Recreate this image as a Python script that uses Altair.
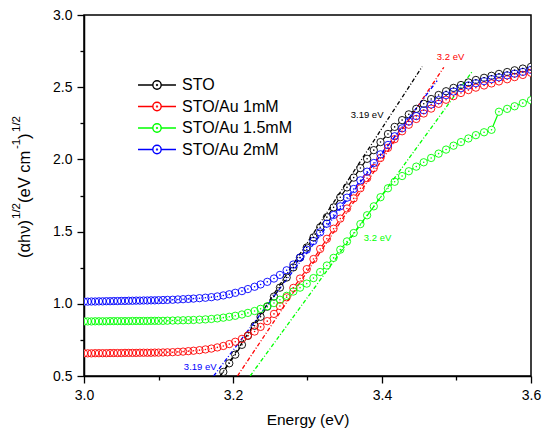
import altair as alt
import pandas as pd

# ---------------- data ----------------
energy = [3.000, 3.005, 3.010, 3.015, 3.020, 3.025, 3.030, 3.035, 3.040, 3.045,
          3.050, 3.055, 3.060, 3.065, 3.070, 3.075, 3.080, 3.085, 3.090, 3.095,
          3.100, 3.106, 3.112, 3.119, 3.126, 3.133, 3.140, 3.147, 3.155, 3.163,
          3.171, 3.179, 3.187, 3.195, 3.203, 3.212, 3.220, 3.229, 3.237, 3.246,
          3.255, 3.263, 3.272, 3.281, 3.290, 3.299, 3.308, 3.317, 3.326, 3.335,
          3.344, 3.353, 3.362, 3.371, 3.380, 3.389, 3.398, 3.408, 3.417, 3.427,
          3.436, 3.446, 3.456, 3.466, 3.476, 3.486, 3.496, 3.506, 3.516, 3.526,
          3.537, 3.547, 3.557, 3.568, 3.578, 3.589, 3.600]

sto = [0.300, 0.300, 0.301, 0.301, 0.301, 0.302, 0.302, 0.302, 0.302, 0.303,
       0.303, 0.303, 0.303, 0.304, 0.304, 0.304, 0.304, 0.305, 0.305, 0.305,
       0.305, 0.306, 0.307, 0.308, 0.310, 0.313, 0.317, 0.323, 0.333, 0.360,
       0.410, 0.468, 0.528, 0.588, 0.648, 0.716, 0.778, 0.848, 0.910, 0.980,
       1.050, 1.112, 1.182, 1.252, 1.320, 1.390, 1.460, 1.530, 1.600, 1.668,
       1.738, 1.806, 1.874, 1.940, 2.004, 2.064, 2.120, 2.176, 2.225, 2.272,
       2.312, 2.350, 2.385, 2.418, 2.446, 2.472, 2.495, 2.515, 2.533, 2.550,
       2.565, 2.579, 2.592, 2.605, 2.617, 2.629, 2.641]

au_1mm = [0.657, 0.657, 0.657, 0.658, 0.658, 0.658, 0.658, 0.659, 0.659, 0.659,
          0.659, 0.660, 0.660, 0.660, 0.660, 0.661, 0.661, 0.661, 0.661, 0.662,
          0.662, 0.663, 0.664, 0.665, 0.667, 0.669, 0.672, 0.675, 0.679, 0.684,
          0.690, 0.698, 0.708, 0.721, 0.737, 0.757, 0.780, 0.808, 0.840, 0.880,
          0.930, 0.985, 1.045, 1.110, 1.175, 1.240, 1.310, 1.380, 1.450, 1.520,
          1.590, 1.660, 1.730, 1.800, 1.870, 1.940, 2.010, 2.080, 2.140, 2.195,
          2.240, 2.280, 2.318, 2.352, 2.385, 2.413, 2.438, 2.460, 2.480, 2.497,
          2.512, 2.526, 2.540, 2.555, 2.570, 2.585, 2.600]

au_15mm = [0.878, 0.878, 0.878, 0.879, 0.879, 0.879, 0.879, 0.880, 0.880, 0.880,
           0.880, 0.880, 0.880, 0.881, 0.881, 0.881, 0.881, 0.881, 0.882, 0.882,
           0.882, 0.882, 0.883, 0.884, 0.885, 0.886, 0.887, 0.888, 0.890, 0.892,
           0.895, 0.899, 0.904, 0.910, 0.917, 0.926, 0.937, 0.950, 0.965, 0.983,
           1.005, 1.028, 1.055, 1.085, 1.112, 1.140, 1.178, 1.220, 1.265, 1.318,
           1.375, 1.432, 1.490, 1.552, 1.613, 1.675, 1.738, 1.800, 1.845, 1.885,
           1.918, 1.950, 1.980, 2.010, 2.040, 2.068, 2.095, 2.120, 2.145, 2.168,
           2.188, 2.205, 2.330, 2.350, 2.368, 2.390, 2.410]

au_2mm = [1.015, 1.015, 1.016, 1.016, 1.017, 1.017, 1.018, 1.018, 1.019, 1.019,
          1.020, 1.020, 1.021, 1.021, 1.022, 1.022, 1.023, 1.023, 1.024, 1.024,
          1.025, 1.026, 1.027, 1.028, 1.030, 1.032, 1.034, 1.036, 1.039, 1.042,
          1.046, 1.051, 1.058, 1.066, 1.076, 1.088, 1.102, 1.118, 1.134, 1.152,
          1.175, 1.200, 1.232, 1.272, 1.320, 1.375, 1.435, 1.495, 1.555, 1.615,
          1.675, 1.735, 1.795, 1.855, 1.915, 1.975, 2.035, 2.100, 2.160, 2.215,
          2.262, 2.300, 2.340, 2.380, 2.410, 2.445, 2.470, 2.493, 2.512, 2.528,
          2.542, 2.556, 2.568, 2.582, 2.594, 2.606, 2.620]

names = ["STO", "STO/Au 1mM", "STO/Au 1.5mM", "STO/Au 2mM"]
colors = ["#000000", "#ff0000", "#00ff00", "#0000ff"]

# linear (Tauc) fit lines: start and end points
fit_e0 = [3.183, 3.206, 3.223, 3.174]
fit_v0 = [0.5, 0.5, 0.5, 0.5]
fit_e1 = [3.454, 3.483, 3.522, 3.474]
fit_v1 = [2.643, 2.638, 2.615, 2.545]

# band-gap annotations
gap_text = ["3.19 eV", "3.2 eV", "3.2 eV", "3.19 eV"]
gap_e = [3.380, 3.492, 3.394, 3.156]
gap_v = [2.31, 2.71, 1.455, 0.562]

# ---------------- tables ----------------
rows = []
for nm, vals in zip(names, [sto, au_1mm, au_15mm, au_2mm]):
    for e, v in zip(energy, vals):
        rows.append({"series": nm, "energy": e, "value": v})
df = pd.DataFrame(rows)

fit_rows = []
for nm, a, b, c, d in zip(names, fit_e0, fit_v0, fit_e1, fit_v1):
    fit_rows.append({"series": nm, "energy": a, "value": b})
    fit_rows.append({"series": nm, "energy": c, "value": d})
fit_df = pd.DataFrame(fit_rows)

lab_df = pd.DataFrame({"series": names, "energy": gap_e, "value": gap_v, "txt": gap_text})

FONT = "Liberation Sans"

xscale = alt.Scale(domain=[3.0, 3.6], nice=False, zero=False)
yscale = alt.Scale(domain=[0.5, 3.0], nice=False, zero=False)
cscale = alt.Scale(domain=names, range=colors)
# same mapping, listed in another order so that its (hidden) legend is kept apart
rscale = alt.Scale(domain=names[::-1], range=colors[::-1])

x_axis = alt.Axis(
    values=[3.0, 3.1, 3.2, 3.3, 3.4, 3.5, 3.6],
    labelExpr="round(datum.value*10) % 2 == 0 ? format(datum.value, '.1f') : ''",
    tickSize={"condition": {"test": "round(datum.value*10) % 2 == 0", "value": 7}, "value": 4},
    grid=False, labelFlush=False, labelOverlap=False, labelPadding=5,
    labelFontSize=14, titleFontSize=15.5, titlePadding=10,
)
y_axis = alt.Axis(
    values=[0.5, 0.75, 1.0, 1.25, 1.5, 1.75, 2.0, 2.25, 2.5, 2.75, 3.0],
    labelExpr="round(datum.value*4) % 2 == 0 ? format(datum.value, '.1f') : ''",
    tickSize={"condition": {"test": "round(datum.value*4) % 2 == 0", "value": 7}, "value": 4},
    grid=False, labelFlush=False, labelOverlap=False, labelPadding=5,
    labelFontSize=14, title="",
)

X = alt.X("energy:Q", scale=xscale, axis=x_axis, title="Energy (eV)")
Y = alt.Y("value:Q", scale=yscale, axis=y_axis, title="")
S_none = alt.Stroke("series:N", scale=rscale, legend=None)
F_none = alt.Fill("series:N", scale=rscale, legend=None)

legend_path = ("M-3.45,0L-0.76,0M0.76,0L3.45,0"
               "M-0.76,0A0.76,0.76,0,1,1,0.76,0A0.76,0.76,0,1,1,-0.76,0"
               "M-0.08,0A0.08,0.08,0,1,1,0.08,0A0.08,0.08,0,1,1,-0.08,0")
C_leg = alt.Color(
    "series:N", scale=cscale,
    legend=alt.Legend(
        title=None, orient="none", legendX=65, legendY=62, padding=0,
        symbolType=legend_path, symbolSize=121, symbolStrokeWidth=1.4,
        labelFontSize=16, labelFont=FONT, labelOffset=17, rowPadding=5.5,
        labelColor="black",
    ),
)

base = alt.Chart(df).encode(x=X, y=Y)

lines = base.mark_line(strokeWidth=1.2, clip=True).encode(stroke=S_none, detail="series:N")
fills = base.mark_point(shape="circle", filled=True, color="white", opacity=1,
                        size=54, clip=True).encode(detail="series:N")
fits = alt.Chart(fit_df).mark_line(strokeDash=[4, 2, 1, 2], strokeWidth=1.3, clip=True).encode(
    x=X, y=Y, stroke=S_none, detail="series:N")
outlines = base.mark_point(shape="circle", filled=False, size=54, strokeWidth=0.9,
                           opacity=1, clip=True).encode(color=C_leg)
dots = base.mark_point(shape="circle", filled=True, size=2.5, opacity=1,
                       clip=True).encode(fill=F_none, detail="series:N")
labels = alt.Chart(lab_df).mark_text(fontSize=9.5, font=FONT).encode(
    x=X, y=Y, text="txt:N", fill=F_none)

# y-axis title with superscripts, built from text pieces
one = pd.DataFrame({"k": [0]})
def ytxt(t, xp, yp, fs):
    return alt.Chart(one).mark_text(text=t, angle=270, align="left", baseline="middle",
                                    fontSize=fs, font=FONT, color="black").encode(
        x=alt.value(xp), y=alt.value(yp))

ytitle = [
    ytxt("(\u03b1h\u03bd)", -59, 243, 16.5),
    ytxt("1/2", -67, 204, 11.5),
    ytxt("(eV cm", -59, 188, 16.5),
    ytxt("-1", -67, 134, 11.5),
    ytxt(")", -59, 124, 16.5),
    ytxt("1/2", -67, 117, 11.5),
]

chart = alt.layer(lines, fills, fits, outlines, dots, labels, *ytitle).properties(
    width=447, height=361,
    autosize=alt.AutoSizeParams(type="none"),
    padding={"left": 76, "top": 7, "right": 11, "bottom": 55},
).configure_view(
    stroke="black", strokeWidth=1.5
).configure_axis(
    labelFont=FONT, titleFont=FONT, labelColor="black", titleColor="black",
    domainColor="black", domainWidth=1.5, tickColor="black", tickWidth=1.3,
    titleFontWeight="normal",
)

chart.save("out.html", embed_options={"renderer": "svg", "actions": False})
